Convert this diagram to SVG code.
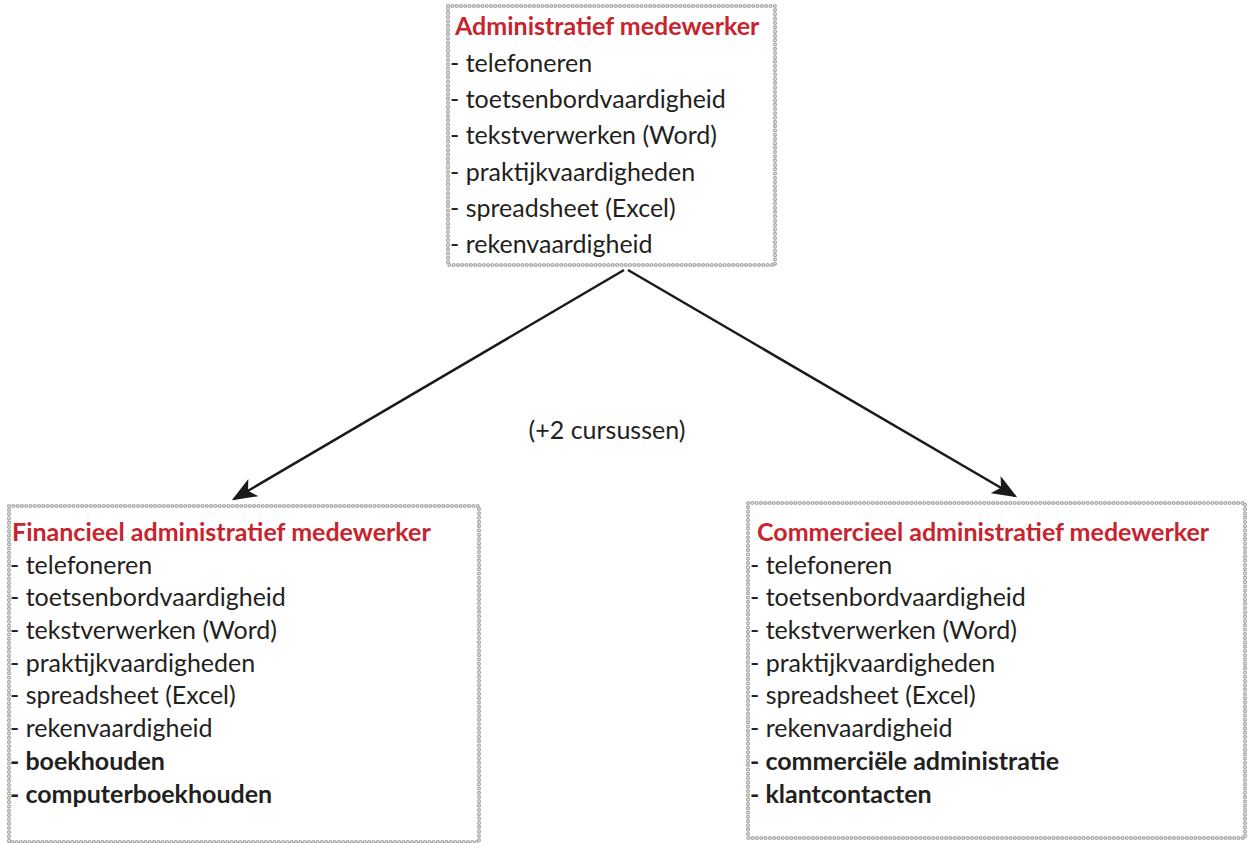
<svg xmlns="http://www.w3.org/2000/svg" width="1248" height="843" viewBox="0 0 1248 843">
<style>
.b1{fill:#fff;stroke:#a8a8a8;stroke-width:4.2;stroke-dasharray:0 4.3;stroke-linecap:round}
.b2{fill:none;stroke:#fff;stroke-width:1.6;stroke-dasharray:0 4.3;stroke-linecap:round}
.t{font-family:Lato,"Liberation Sans",sans-serif;font-size:25px;fill:#231f20}
.h{font-family:Lato,"Liberation Sans",sans-serif;font-size:25px;font-weight:bold;fill:#c9232e}
.bd{font-weight:bold}
.c{stroke:#1a1a1a;stroke-width:2.5;fill:none}
</style>
<defs>
<marker id="ah" markerWidth="10" markerHeight="8" refX="9" refY="4" orient="auto" markerUnits="strokeWidth">
<path d="M0,0 L10,4 L0,8 L2.5,4 Z" fill="#1a1a1a"/>
</marker>
</defs>
<g id="connectors">
<line class="c" x1="624" y1="270" x2="234" y2="499" marker-end="url(#ah)"/>
<line class="c" x1="628" y1="270" x2="1015" y2="496" marker-end="url(#ah)"/>
<text class="t" x="607" y="439" text-anchor="middle">(+2 cursussen)</text>
</g>
<g id="admin">
<rect class="b1" x="448" y="6" width="327" height="259"/>
<rect class="b2" x="448" y="6" width="327" height="259"/>
<text class="h" x="455" y="35">Administratief medewerker</text>
<text class="t" x="450" y="72">- telefoneren</text>
<text class="t" x="450" y="108">- toetsenbordvaardigheid</text>
<text class="t" x="450" y="144">- tekstverwerken (Word)</text>
<text class="t" x="450" y="181">- praktijkvaardigheden</text>
<text class="t" x="450" y="217">- spreadsheet (Excel)</text>
<text class="t" x="450" y="253">- rekenvaardigheid</text>
</g>
<g id="financieel">
<rect class="b1" x="9" y="506" width="470" height="336"/>
<rect class="b2" x="9" y="506" width="470" height="336"/>
<text class="h" x="12" y="541">Financieel administratief medewerker</text>
<text class="t" x="10" y="574">- telefoneren</text>
<text class="t" x="10" y="606">- toetsenbordvaardigheid</text>
<text class="t" x="10" y="639">- tekstverwerken (Word)</text>
<text class="t" x="10" y="672">- praktijkvaardigheden</text>
<text class="t" x="10" y="704">- spreadsheet (Excel)</text>
<text class="t" x="10" y="737">- rekenvaardigheid</text>
<text class="t bd" x="10" y="770">- boekhouden</text>
<text class="t bd" x="10" y="803">- computerboekhouden</text>
</g>
<g id="commercieel">
<rect class="b1" x="748" y="503" width="497" height="335"/>
<rect class="b2" x="748" y="503" width="497" height="335"/>
<text class="h" x="757" y="541">Commercieel administratief medewerker</text>
<text class="t" x="750" y="574">- telefoneren</text>
<text class="t" x="750" y="606">- toetsenbordvaardigheid</text>
<text class="t" x="750" y="639">- tekstverwerken (Word)</text>
<text class="t" x="750" y="672">- praktijkvaardigheden</text>
<text class="t" x="750" y="704">- spreadsheet (Excel)</text>
<text class="t" x="750" y="737">- rekenvaardigheid</text>
<text class="t bd" x="750" y="770">- commerciële administratie</text>
<text class="t bd" x="750" y="803">- klantcontacten</text>
</g>
</svg>
